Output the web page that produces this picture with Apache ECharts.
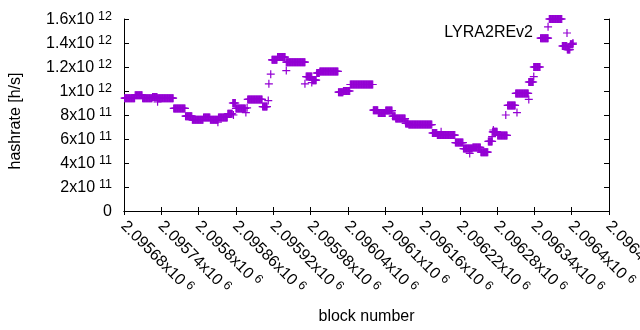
<!DOCTYPE html>
<html><head><meta charset="utf-8">
<script src="https://cdn.jsdelivr.net/npm/echarts@6/dist/echarts.min.js"></script>
<style>html,body{margin:0;padding:0;background:#fff}#c{width:640px;height:330px}</style>
</head><body><div id="c"></div><script>
const seriesName = 'LYRA2REv2';
// runs of constant estimated hashrate: first block, last block (inclusive), hashrate [h/s]
const runFrom = [2095681, 2095698, 2095710, 2095726, 2095734, 2095760, 2095779, 2095790, 2095808, 2095819,
  2095832, 2095847, 2095855, 2095860, 2095879, 2095903, 2095918, 2095927, 2095941, 2095973,
  2095983, 2095990, 2095995, 2096025, 2096033, 2096044, 2096081, 2096089, 2096101, 2096112,
  2096117, 2096133, 2096138, 2096176, 2096184, 2096213, 2096226, 2096241, 2096254, 2096266,
  2096273, 2096281, 2096297, 2096310, 2096331, 2096339, 2096350, 2096364, 2096385, 2096393, 2096398];
const runTo = [2095697, 2095709, 2095725, 2095733, 2095759, 2095778, 2095789, 2095807, 2095818, 2095831,
  2095846, 2095854, 2095859, 2095875, 2095902, 2095910, 2095926, 2095939, 2095971, 2095982,
  2095989, 2095994, 2096024, 2096032, 2096043, 2096080, 2096088, 2096100, 2096111, 2096116,
  2096132, 2096137, 2096175, 2096183, 2096212, 2096225, 2096240, 2096253, 2096265, 2096272,
  2096280, 2096296, 2096309, 2096330, 2096338, 2096349, 2096362, 2096384, 2096392, 2096397, 2096402];
const runRate = [9.4e11, 9.65e11, 9.4e11, 9.5e11, 9.4e11, 8.55e11, 7.9e11, 7.6e11, 7.8e11, 7.6e11,
  7.8e11, 8.1e11, 9.0e11, 8.55e11, 9.3e11, 8.7e11, 1.26e12, 1.283e12, 1.24e12, 1.12e12,
  1.09e12, 1.15e12, 1.163e12, 9.9e11, 1.0e12, 1.054e12, 8.4e11, 8.17e11, 8.37e11, 7.9e11,
  7.7e11, 7.3e11, 7.2e11, 6.5e11, 6.33e11, 5.7e11, 5.2e11, 5.3e11, 4.9e11, 5.8e11,
  6.6e11, 6.3e11, 8.8e11, 9.8e11, 1.075e12, 1.2e12, 1.44e12, 1.6e12, 1.375e12, 1.345e12, 1.39e12];
// isolated estimates
const loneBlock = [2095734, 2095831, 2095856, 2095876, 2095878, 2095912, 2095913, 2095916, 2095941, 2095971,
  2095982, 2096190, 2096236, 2096272, 2096274, 2096294, 2096312, 2096331, 2096339, 2096362, 2096402];
const loneRate = [9.1e11, 7.4e11, 8.0e11, 8.2e11, 8.6e11, 9.2e11, 1.06e12, 1.14e12, 1.17e12, 1.06e12,
  1.07e12, 6.6e11, 4.8e11, 6.2e11, 6.75e11, 8.0e11, 8.2e11, 9.3e11, 1.12e12, 1.535e12, 1.40e12];

const xTickLabels = ['2.09568x10^6', '2.09574x10^6', '2.0958x10^6', '2.09586x10^6', '2.09592x10^6',
  '2.09598x10^6', '2.09604x10^6', '2.0961x10^6', '2.09616x10^6', '2.09622x10^6', '2.09628x10^6',
  '2.09634x10^6', '2.0964x10^6', '2.09646x10^6'];
const yTickLabels = ['0', '2x10^11', '4x10^11', '6x10^11', '8x10^11', '1x10^12', '1.2x10^12', '1.4x10^12', '1.6x10^12'];

const xMin = 2095680, xMax = 2096460, xStep = 60;
const yMin = 0, yMax = 1.6e12, yStep = 2e11;

const points = [];
for (let r = 0; r < runFrom.length; r++) {
  for (let b = runFrom[r]; b <= runTo[r]; b++) points.push([b, runRate[r]]);
}
for (let i = 0; i < loneBlock.length; i++) points.push([loneBlock[i], loneRate[i]]);

function sup(s) {
  const p = s.split('^');
  return p.length > 1 ? '{m|' + p[0] + '}{s|' + p[1] + '}' : '{m|' + p[0] + '}';
}
const FONT = '"Liberation Sans", Arial, sans-serif';
const rich = {
  m: { fontSize: 16, lineHeight: 18, verticalAlign: 'bottom', color: '#000', fontFamily: FONT },
  s: { fontSize: 12.5, lineHeight: 12.5, verticalAlign: 'top', color: '#000', fontFamily: FONT, padding: [0, 0, 0, 4] }
};
const PLUS = 'path://M3.4,0H4.6V3.4H8V4.6H4.6V8H3.4V4.6H0V3.4H3.4Z';
const lineStyle = { color: '#000', width: 1 };

const chart = echarts.init(document.getElementById('c'), null, { renderer: 'canvas' });
chart.setOption({
  animation: false,
  backgroundColor: '#fff',
  textStyle: { fontFamily: FONT },
  grid: { left: 124, right: 31, top: 19, bottom: 119, containLabel: false, outerBoundsMode: 'none' },
  legend: {
    data: [seriesName], right: 64, top: 20, align: 'right', orient: 'vertical',
    itemWidth: 58, itemHeight: 8, icon: PLUS, symbolKeepAspect: true,
    textStyle: { fontSize: 16, color: '#000', fontFamily: FONT }
  },
  xAxis: [{
    type: 'value', min: xMin, max: xMax, interval: xStep, position: 'bottom',
    name: 'block number', nameLocation: 'middle', nameGap: 98,
    nameTextStyle: { fontSize: 16, color: '#000', fontFamily: FONT },
    axisLine: { show: true, lineStyle: lineStyle },
    axisTick: { show: true, inside: true, length: 4, lineStyle: lineStyle },
    splitLine: { show: false },
    axisLabel: {
      rotate: -45, margin: 12, showMinLabel: true, showMaxLabel: true, hideOverlap: false,
      formatter: v => sup(xTickLabels[Math.round((v - xMin) / xStep)] || ''), rich: rich
    }
  }, {
    type: 'value', min: xMin, max: xMax, interval: xStep, position: 'top',
    axisLine: { show: true, lineStyle: lineStyle },
    axisTick: { show: true, inside: true, length: 4, lineStyle: lineStyle },
    axisLabel: { show: false }, splitLine: { show: false }
  }],
  yAxis: [{
    type: 'value', min: yMin, max: yMax, interval: yStep, position: 'left',
    name: 'hashrate [h/s]', nameLocation: 'middle', nameGap: 100, nameRotate: 90,
    nameTextStyle: { fontSize: 16, color: '#000', fontFamily: FONT, padding: [0, 12, 0, 0] },
    axisLine: { show: true, lineStyle: lineStyle },
    axisTick: { show: true, inside: true, length: 5, lineStyle: lineStyle },
    splitLine: { show: false },
    axisLabel: {
      margin: 12, showMinLabel: true, showMaxLabel: true,
      formatter: v => sup(yTickLabels[Math.round((v - yMin) / yStep)] || ''), rich: rich
    }
  }, {
    type: 'value', min: yMin, max: yMax, interval: yStep, position: 'right',
    axisLine: { show: true, lineStyle: lineStyle },
    axisTick: { show: true, inside: true, length: 5, lineStyle: lineStyle },
    axisLabel: { show: false }, splitLine: { show: false }
  }],
  series: [{
    name: seriesName, type: 'scatter', xAxisIndex: 0, yAxisIndex: 0,
    symbol: PLUS, symbolSize: 8, clip: false, progressive: 0, large: false,
    itemStyle: { color: '#9400d3', opacity: 1 },
    emphasis: { disabled: true },
    data: points
  }]
});
</script></body></html>
